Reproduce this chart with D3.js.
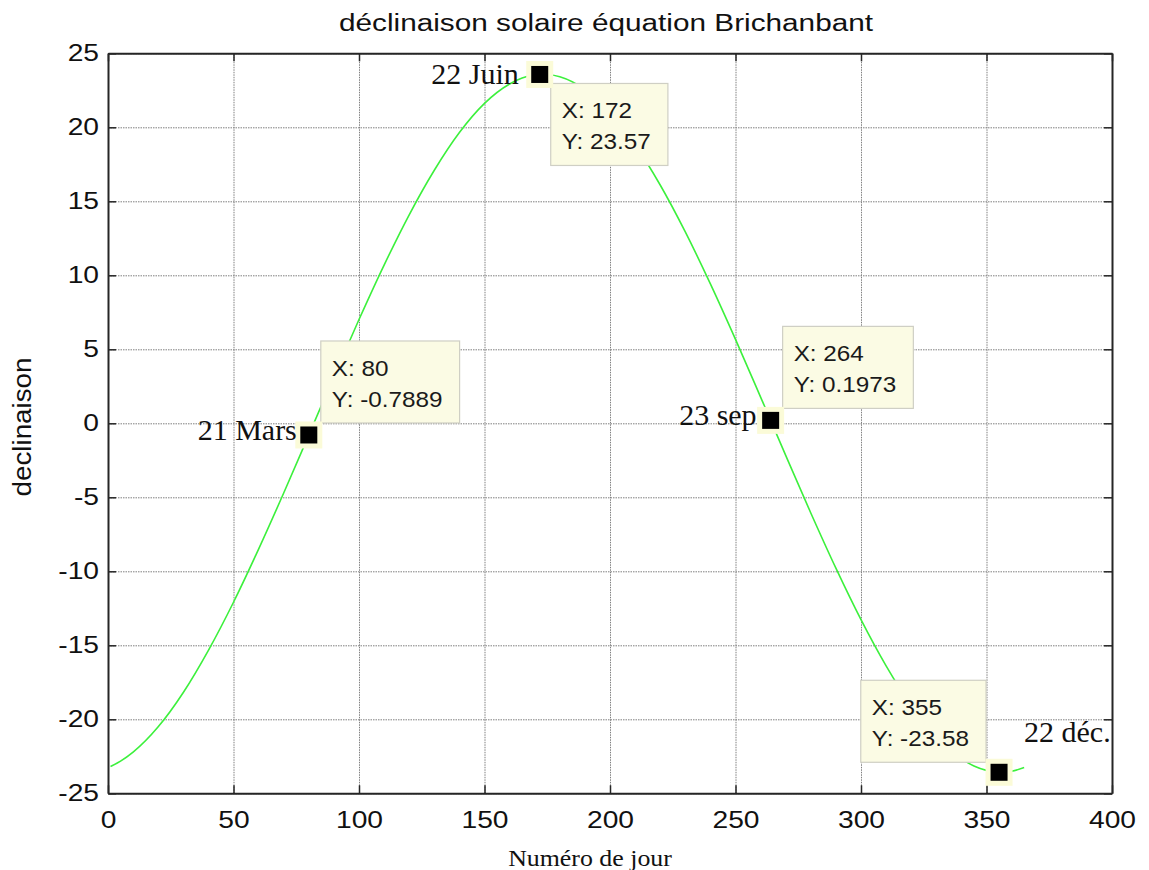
<!DOCTYPE html>
<html>
<head>
<meta charset="utf-8">
<script src="https://cdn.jsdelivr.net/npm/d3@7"></script>
<style>
  html, body { margin: 0; padding: 0; background: #fff; }
  svg { display: block; }
</style>
</head>
<body>
<svg id="chart" width="1149" height="870"></svg>
<script>
// Day of year and solar declination (degrees), Brichambaut equation
const days = [1, 5, 10, 20, 30, 40, 50, 60, 70, 80, 90, 100, 110, 120, 130, 140, 150, 160, 165, 172, 176, 180,
  190, 200, 210, 220, 230, 240, 250, 260, 264, 270, 280, 290, 300, 310, 320, 330, 340, 345, 350, 355, 360, 365];
const declination = [-23.19, -22.83, -22.22, -20.51, -18.19, -15.34, -12.09, -8.50, -4.71, -0.7889, 3.15, 7.01,
  10.69, 14.09, 17.10, 19.65, 21.62, 22.93, 23.33, 23.57, 23.55, 23.41, 22.55, 21.00, 18.82, 16.10, 12.93,
  9.42, 5.67, 1.77, 0.1973, -2.17, -6.06, -9.79, -13.27, -16.39, -19.07, -21.18, -22.67, -23.15, -23.45,
  -23.58, -23.51, -23.26];

// Highlighted points (equinoxes and solstices)
const tipDays = [80, 172, 264, 355];
const tipValues = [-0.7889, 23.57, 0.1973, -23.58];
const tipYText = ["-0.7889", "23.57", "0.1973", "-23.58"];
const dateLabels = ["21 Mars", "22 Juin", "23 sep", "22 déc."];

// Axis ticks
const xTicks = [0, 50, 100, 150, 200, 250, 300, 350, 400];
const yTicks = [-25, -20, -15, -10, -5, 0, 5, 10, 15, 20, 25];

const titleText = "déclinaison solaire équation Brichanbant";
const xLabelText = "Numéro de jour";
const yLabelText = "declinaison";

const svg = d3.select("#chart");
const plotL = 108, plotR = 1112, plotT = 53.3, plotB = 793.3;
const sans = "'Liberation Sans', Arial, sans-serif";
const serif = "'Liberation Serif', 'Times New Roman', serif";
const stretch = 1.2;
const plainNum = d => String(d);

const x = d3.scaleLinear().domain([0, 400]).range([plotL, plotR]);
const y = d3.scaleLinear().domain([-25, 25]).range([plotB, plotT]);

// Grid
const grid = svg.append("g").attr("class", "grid");
grid.append("g").attr("transform", `translate(0,${plotB})`)
  .call(d3.axisBottom(x).tickValues(xTicks).tickSize(-(plotB - plotT)).tickFormat(""));
grid.append("g").attr("transform", `translate(${plotL},0)`)
  .call(d3.axisLeft(y).tickValues(yTicks).tickSize(-(plotR - plotL)).tickFormat(""));
grid.selectAll(".domain").remove();
grid.selectAll("line").attr("stroke", "#7f7f7f").attr("stroke-width", 1).attr("stroke-dasharray", "1.5,1");

// Curve
const line = d3.line()
  .x((d, i) => x(days[i]))
  .y(d => y(d))
  .curve(d3.curveMonotoneX);
svg.append("path")
  .datum(declination)
  .attr("fill", "none")
  .attr("stroke", "#3cf03c")
  .attr("stroke-width", 1.6)
  .attr("d", line);

// Axes with inward ticks on all four sides
const tick = 8;
const axB = svg.append("g").attr("transform", `translate(0,${plotB})`)
  .call(d3.axisBottom(x).tickValues(xTicks).tickFormat(plainNum).tickSizeInner(-tick).tickSizeOuter(0).tickPadding(18));
const axL = svg.append("g").attr("transform", `translate(${plotL},0)`)
  .call(d3.axisLeft(y).tickValues(yTicks).tickFormat(plainNum).tickSizeInner(-tick).tickSizeOuter(0).tickPadding(7.5));
const axT = svg.append("g").attr("transform", `translate(0,${plotT})`)
  .call(d3.axisTop(x).tickValues(xTicks).tickSizeInner(-tick).tickSizeOuter(0).tickFormat(""));
const axR = svg.append("g").attr("transform", `translate(${plotR},0)`)
  .call(d3.axisRight(y).tickValues(yTicks).tickSizeInner(-tick).tickSizeOuter(0).tickFormat(""));

[axB, axL, axT, axR].forEach(g => {
  g.select(".domain").attr("stroke", "#262626").attr("stroke-width", 2);
  g.selectAll(".tick line").attr("stroke", "#262626").attr("stroke-width", 1.5);
});
[axB, axL].forEach(g => {
  g.selectAll(".tick text")
    .attr("fill", "#111")
    .style("font-family", sans)
    .style("font-size", "23.5px")
    .attr("transform", `scale(${stretch},1)`);
});
axL.selectAll(".tick text").attr("x", -7.5);

// Title and axis labels
svg.append("text")
  .attr("transform", `translate(${(plotL + plotR) / 2 - 4},31) scale(${stretch},1)`)
  .attr("text-anchor", "middle")
  .style("font-family", sans).style("font-size", "24.8px").attr("fill", "#111")
  .text(titleText);

svg.append("text")
  .attr("transform", `translate(590,866) scale(1.15,1)`)
  .attr("text-anchor", "middle")
  .style("font-family", serif).style("font-size", "22.5px").attr("fill", "#111")
  .text(xLabelText);

svg.append("text")
  .attr("transform", `translate(31,427) scale(1.1,1) rotate(-90)`)
  .attr("text-anchor", "middle")
  .style("font-family", sans).style("font-size", "24px").attr("fill", "#111")
  .attr("textLength", 139).attr("lengthAdjust", "spacingAndGlyphs")
  .text(yLabelText);

// Data tips: box direction and date label placement for each point
const boxPlace = ["above-right", "below-right", "above-right", "above-left"];
const labelOffset = [[-12, 5, "end"], [-21, 10, "end"], [-14, 5, "end"], [25, -30, "start"]];
const tipFs = 22.5, tipSx = 1.08, boxH = 82;

tipDays.forEach((d, i) => {
  const mx = x(d), my = y(tipValues[i]);
  const g = svg.append("g");

  // text box
  const box = g.append("rect").attr("fill", "#fbfbe4").attr("stroke", "#cfcfc4").attr("stroke-width", 1.2);
  const t1 = g.append("text").text("X: " + d);
  const t2 = g.append("text").text("Y: " + tipYText[i]);
  [t1, t2].forEach(t => t.style("font-family", sans).style("font-size", tipFs + "px").attr("fill", "#1a1a1a"));
  const tw = Math.max(t1.node().getComputedTextLength(), t2.node().getComputedTextLength()) * tipSx;
  const bw = tw + 11 + 17;
  let bx, by;
  if (boxPlace[i] === "above-right") { bx = mx + 12; by = my - 12 - boxH; }
  else if (boxPlace[i] === "below-right") { bx = mx + 11; by = my + 9; }
  else { bx = mx - 13 - bw; by = my - 10 - boxH; }
  box.attr("x", bx).attr("y", by).attr("width", bw).attr("height", boxH);
  t1.attr("transform", `translate(${bx + 11},${by + 35}) scale(${tipSx},1)`);
  t2.attr("transform", `translate(${bx + 11},${by + 66}) scale(${tipSx},1)`);

  // marker
  g.append("rect").attr("x", mx - 13.5).attr("y", my - 13.5).attr("width", 27).attr("height", 27)
    .attr("fill", "#fbfbd8");
  g.append("rect").attr("x", mx - 8.5).attr("y", my - 8.5).attr("width", 17).attr("height", 17)
    .attr("fill", "#000");

  // date label
  const [ox, oy, anchor] = labelOffset[i];
  svg.append("text")
    .attr("x", mx + ox).attr("y", my + oy)
    .attr("text-anchor", anchor)
    .style("font-family", serif).style("font-size", "30px").attr("fill", "#111")
    .text(dateLabels[i]);
});
</script>
</body>
</html>
